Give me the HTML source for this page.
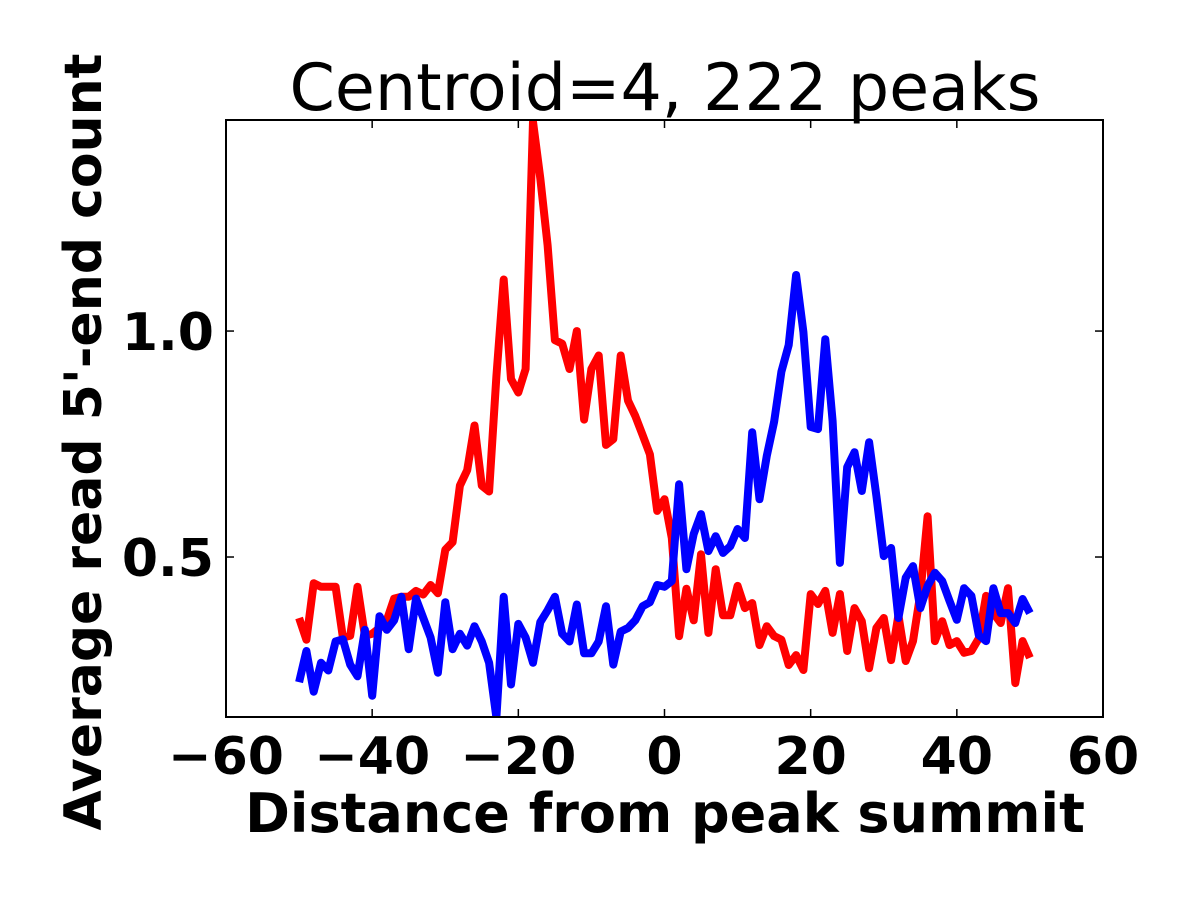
<!DOCTYPE html>
<html><head><meta charset="utf-8"><style>
html,body{margin:0;padding:0;background:#fff;}
svg text{font-family:"DejaVu Sans","Liberation Sans",sans-serif;}
</style></head><body>
<svg id="chart" width="1200" height="900" xmlns="http://www.w3.org/2000/svg">
<rect width="1200" height="900" fill="#fff"/>
<text x="665" y="110" font-size="65" text-anchor="middle">Centroid=4, 222 peaks</text>
<text transform="translate(101,442) rotate(-90)" font-size="52" font-weight="bold" text-anchor="middle">Average read 5'-end count</text>
<text x="665" y="832" font-size="54" font-weight="bold" text-anchor="middle">Distance from peak summit</text>
<g id="ticks"></g>
<g id="lines"></g>
<rect x="226" y="120" width="877" height="597" fill="none" stroke="#000" stroke-width="2"/>
</svg>
<script>
const xTicks = [-60, -40, -20, 0, 20, 40, 60];
const xTickLabels = ["\u221260", "\u221240", "\u221220", "0", "20", "40", "60"];
const yTicks = [0.5, 1.0];
const yTickLabels = ["0.5", "1.0"];
const xStart = -50;
const redValues = [0.365,0.317,0.442,0.434,0.434,0.434,0.322,0.326,0.434,0.326,0.33,0.343,0.36,0.408,0.412,0.412,0.425,0.417,0.438,0.42,0.516,0.533,0.658,0.692,0.791,0.658,0.645,0.9,1.114,0.894,0.864,0.916,1.463,1.338,1.19,0.98,0.972,0.916,1.0,0.804,0.916,0.946,0.748,0.761,0.946,0.846,0.812,0.77,0.727,0.602,0.628,
0.542,0.325,0.43,0.36,0.506,0.332,0.473,0.371,0.371,0.436,0.387,0.398,0.305,0.347,0.325,0.317,0.261,0.283,0.25,0.418,0.396,0.425,0.332,0.418,0.292,0.387,0.358,0.254,0.343,0.365,0.272,0.371,0.27,0.314,0.418,0.59,0.314,0.358,0.305,0.314,0.288,0.292,0.32,0.414,0.376,0.354,0.431,0.221,0.314,0.277];
const blueValues = [0.223,0.292,0.202,0.266,0.249,0.313,0.318,0.262,0.236,0.339,0.193,0.369,0.339,0.36,0.412,0.296,0.408,0.365,0.322,0.244,0.4,0.296,0.33,0.304,0.347,0.313,0.266,0.145,0.412,0.218,0.352,0.322,0.266,0.356,0.382,0.412,0.33,0.313,0.395,0.287,0.287,0.313,0.391,0.262,0.335,0.343,0.36,0.391,0.4,0.438,0.434,
0.447,0.661,0.473,0.551,0.595,0.513,0.546,0.509,0.524,0.562,0.542,0.776,0.628,0.724,0.799,0.91,0.969,1.124,0.998,0.788,0.783,0.982,0.801,0.487,0.699,0.732,0.646,0.754,0.635,0.502,0.52,0.365,0.454,0.48,0.387,0.436,0.465,0.447,0.403,0.361,0.431,0.414,0.327,0.314,0.431,0.376,0.376,0.354,0.407,0.376];

const L=226,R=1103,T=120,B=717;
const xMin=-60,xMax=60,yMin=0.146,yMax=1.467;
function xs(v){return L+(v-xMin)/(xMax-xMin)*(R-L);}
function ys(v){return B-(v-yMin)/(yMax-yMin)*(B-T);}
const NS="http://www.w3.org/2000/svg";
const tg=document.getElementById('ticks');
const lg=document.getElementById('lines');
function mk(tag,attrs,parent){const e=document.createElementNS(NS,tag);for(const k in attrs)e.setAttribute(k,attrs[k]);parent.appendChild(e);return e;}
xTicks.forEach((t,i)=>{
  const x=xs(t);
  const a=mk('line',{x1:x,x2:x,y1:B,y2:B-8,stroke:'#000','stroke-width':1.5},tg);
  
  
  const b=mk('line',{x1:x,x2:x,y1:T,y2:T+8,stroke:'#000','stroke-width':1.5},tg);
  
  
  const tx=mk('text',{x:x,y:774,'font-size':52,'font-weight':'bold','text-anchor':'middle'},tg);
  tx.textContent=xTickLabels[i];
  
  
});
yTicks.forEach((t,i)=>{
  const y=ys(t);
  const a=mk('line',{x1:L,x2:L+8,y1:y,y2:y,stroke:'#000','stroke-width':1.5},tg);
  
  
  const b=mk('line',{x1:R,x2:R-8,y1:y,y2:y,stroke:'#000','stroke-width':1.5},tg);
  
  
  const tx=mk('text',{x:214,y:y+19,'font-size':52,'font-weight':'bold','text-anchor':'end'},tg);
  tx.textContent=yTickLabels[i];
  
  
});
function pts(vals){return vals.map((v,i)=>xs(xStart+i).toFixed(1)+','+ys(v).toFixed(1)).join(' ');}
const clip=mk('clipPath',{id:'pc'},lg);
mk('rect',{x:L,y:T,width:R-L,height:B-T},clip);
const red=mk('polyline',{points:pts(redValues),fill:'none',stroke:'#ff0000','stroke-width':8,'stroke-linejoin':'round','clip-path':'url(#pc)'},lg);


const blue=mk('polyline',{points:pts(blueValues),fill:'none',stroke:'#0000ff','stroke-width':8,'stroke-linejoin':'round','clip-path':'url(#pc)'},lg);


</script>
</body></html>
